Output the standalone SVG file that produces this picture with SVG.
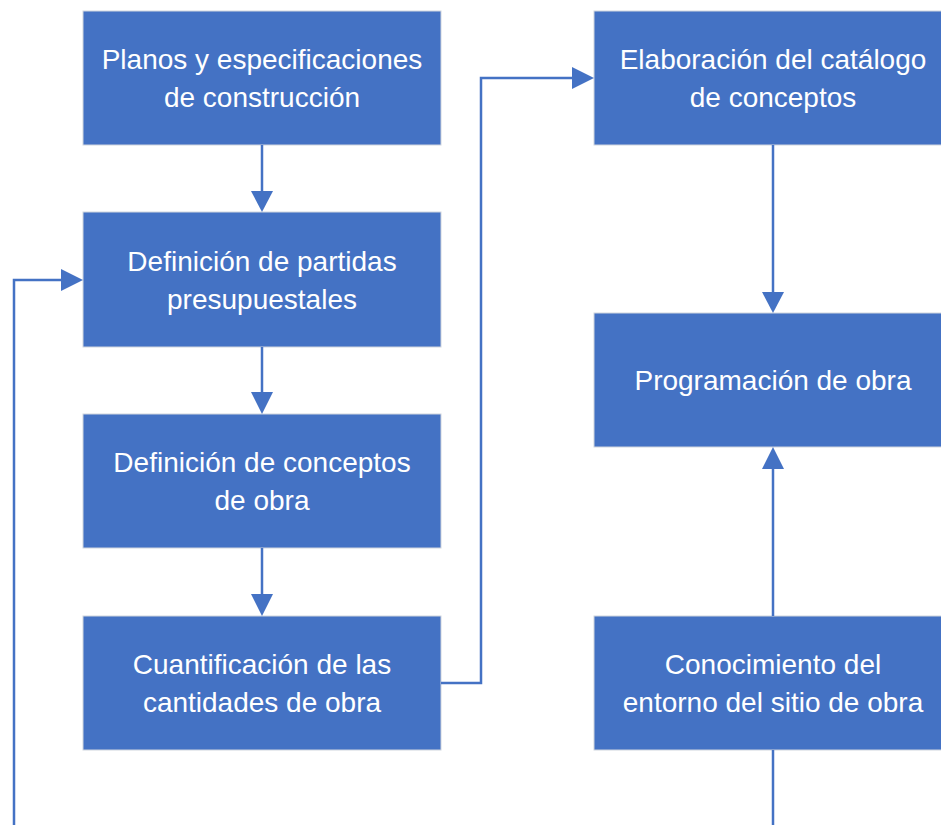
<svg xmlns="http://www.w3.org/2000/svg" width="941" height="825" viewBox="0 0 941 825">
<style>
.box{fill:#4472C4;stroke:#D0D5DE;stroke-width:1}
.t{fill:#fff;font-family:"Liberation Sans",Arial,sans-serif;font-size:28px;text-anchor:middle}
.c{fill:none;stroke:#4472C4;stroke-width:2.5}
.h{fill:#4472C4}
</style>
<rect width="941" height="825" fill="#fff"/>
<g id="n1"><rect class="box" x="83" y="11" width="358" height="134"/><text class="t" x="262" y="69">Planos y especificaciones</text><text class="t" x="262" y="107">de construcción</text></g>
<g id="n2"><rect class="box" x="83" y="212" width="358" height="135"/><text class="t" x="262" y="271">Definición de partidas</text><text class="t" x="262" y="309">presupuestales</text></g>
<g id="n3"><rect class="box" x="83" y="414" width="358" height="134"/><text class="t" x="262" y="472">Definición de conceptos</text><text class="t" x="262" y="510">de obra</text></g>
<g id="n4"><rect class="box" x="83" y="616" width="358" height="134"/><text class="t" x="262" y="674">Cuantificación de las</text><text class="t" x="262" y="712">cantidades de obra</text></g>
<g id="n5"><rect class="box" x="594" y="11" width="358" height="134"/><text class="t" x="773" y="69">Elaboración del catálogo</text><text class="t" x="773" y="107">de conceptos</text></g>
<g id="n6"><rect class="box" x="594" y="313" width="358" height="134"/><text class="t" x="773" y="390">Programación de obra</text></g>
<g id="n7"><rect class="box" x="594" y="616" width="358" height="134"/><text class="t" x="773" y="674">Conocimiento del</text><text class="t" x="773" y="712">entorno del sitio de obra</text></g>
<g id="connectors">
<path class="c" d="M262 145V192"/><path class="h" d="M251 191H273L262 212Z"/>
<path class="c" d="M262 347V393"/><path class="h" d="M251 392H273L262 414Z"/>
<path class="c" d="M262 548V595"/><path class="h" d="M251 594H273L262 616Z"/>
<path class="c" d="M441 683H481V78H574"/><path class="h" d="M572 67V89L594 78Z"/>
<path class="c" d="M14 825V280H63"/><path class="h" d="M61 269V291L83 280Z"/>
<path class="c" d="M773 145V293"/><path class="h" d="M762 292H784L773 313Z"/>
<path class="c" d="M773 616V468"/><path class="h" d="M762 469H784L773 447Z"/>
<path class="c" d="M773 750V825"/>
</g>
</svg>
